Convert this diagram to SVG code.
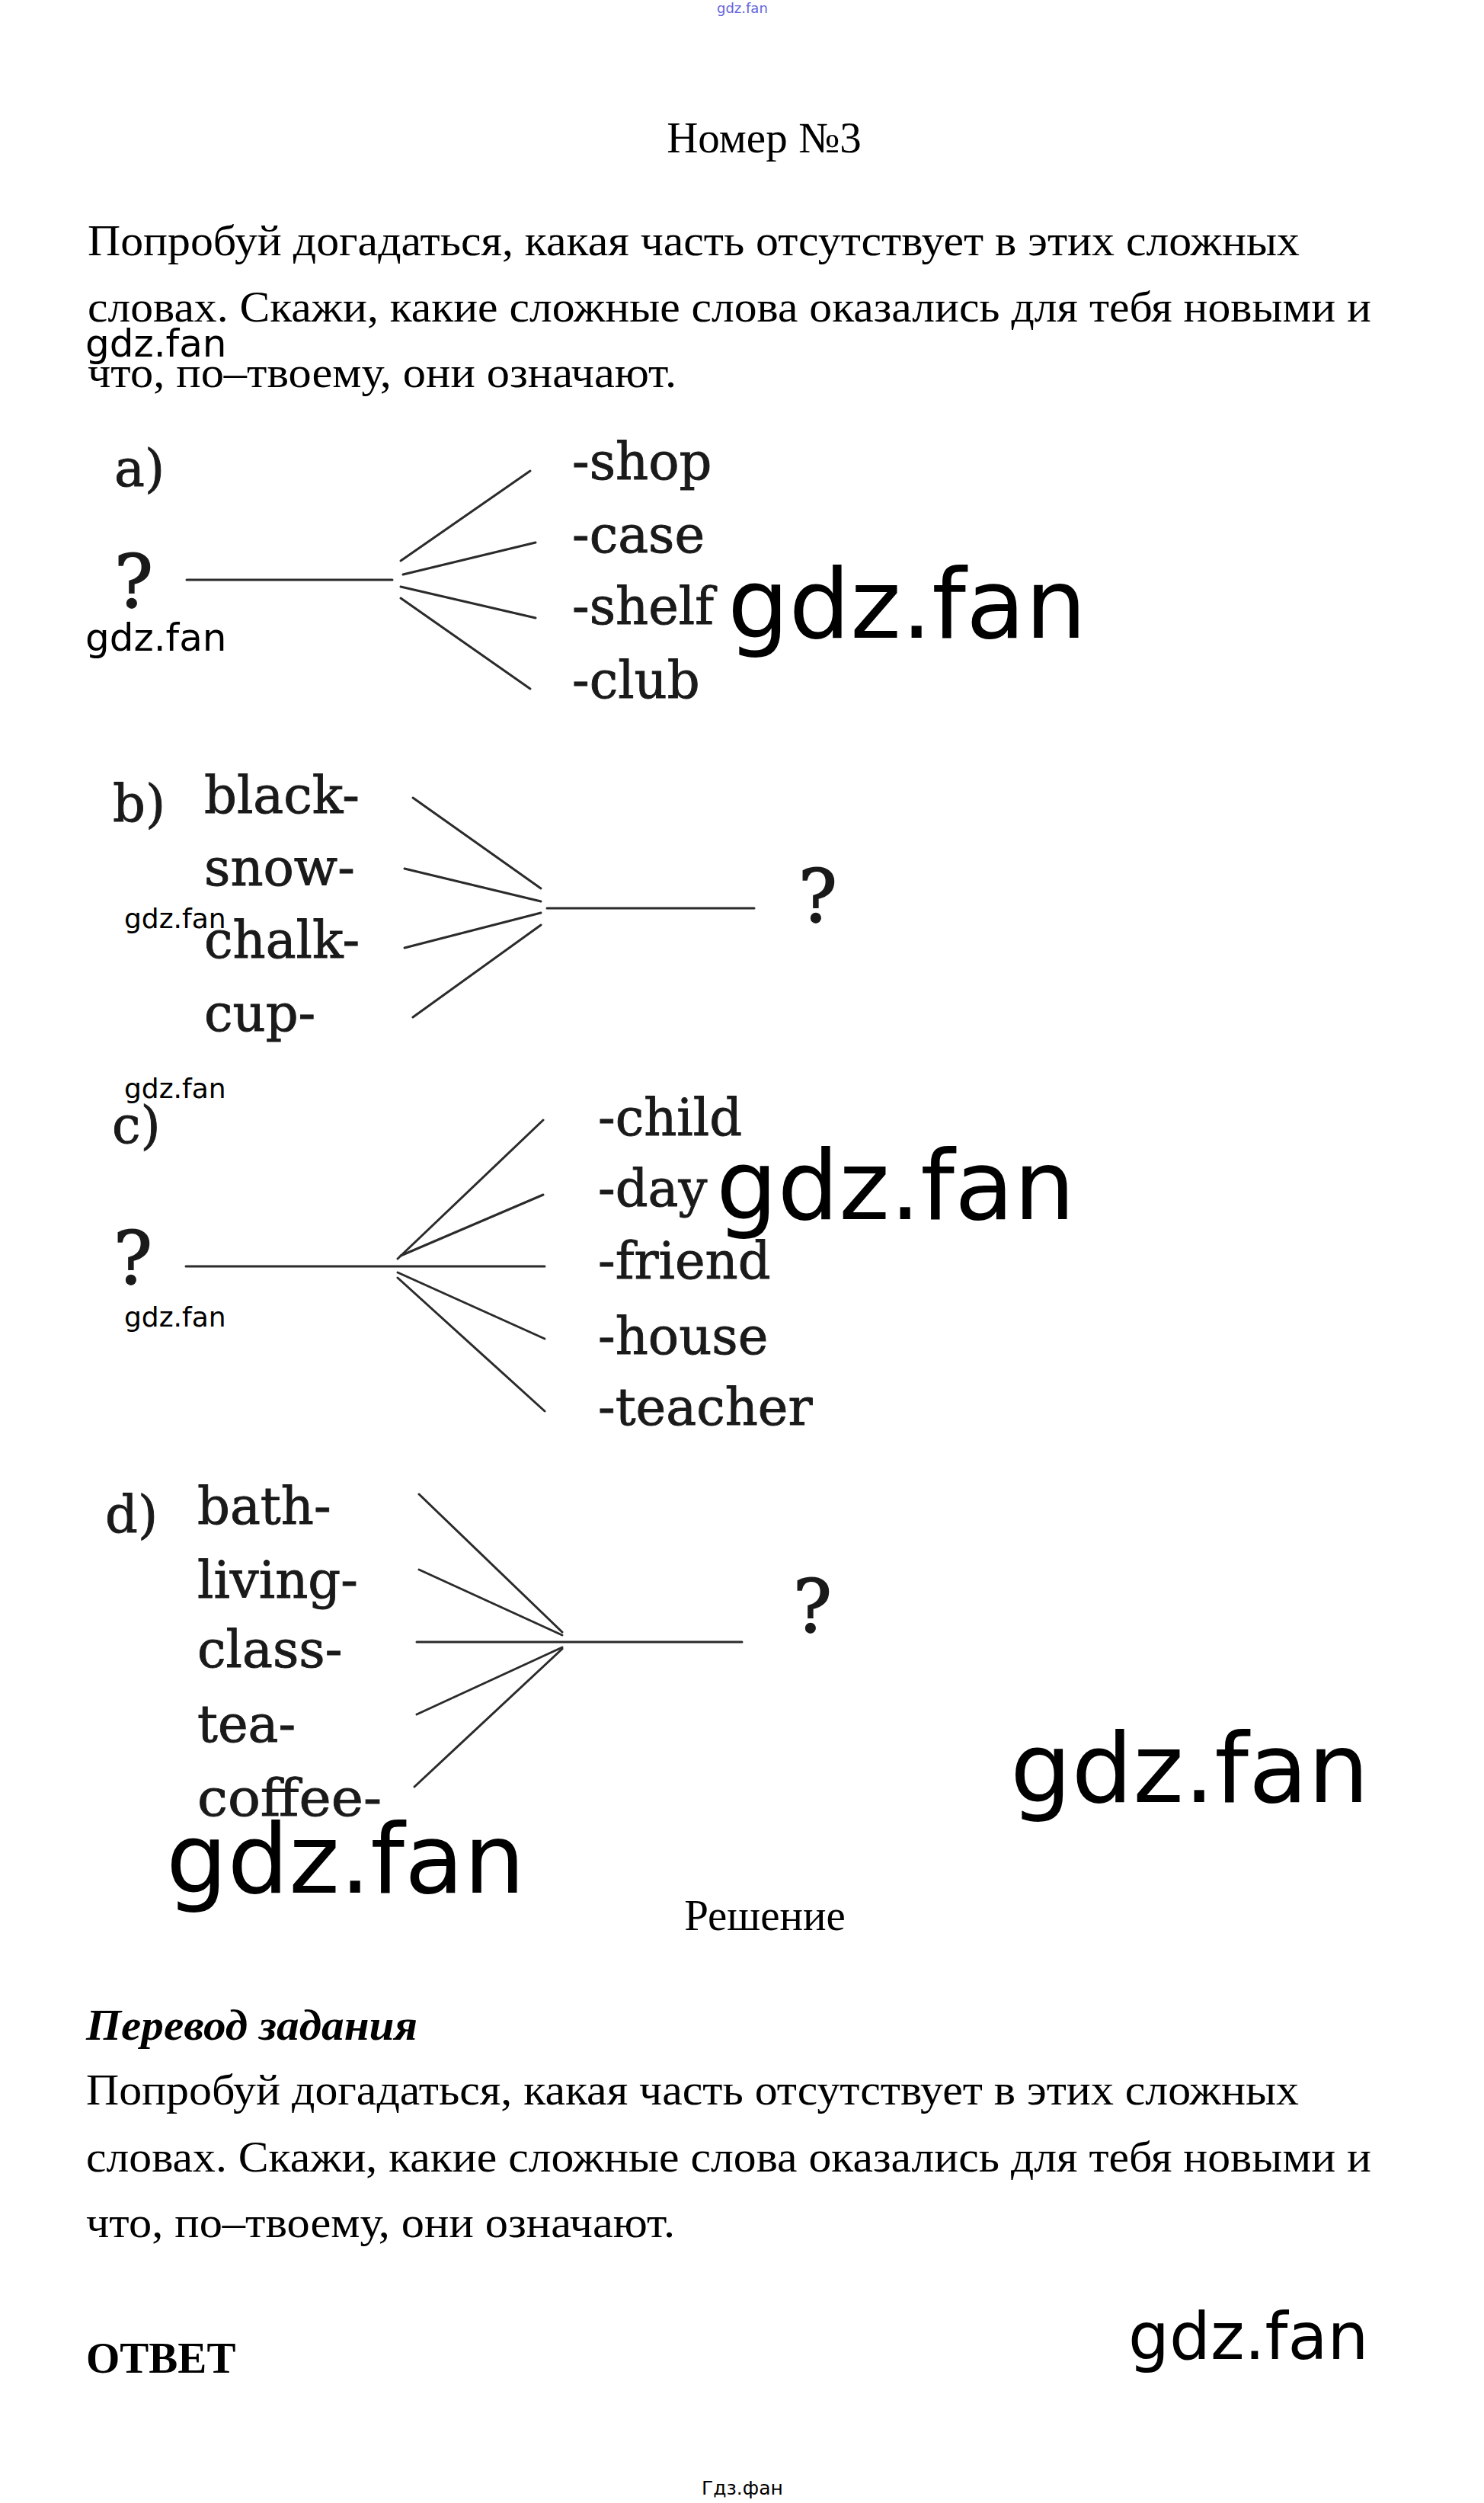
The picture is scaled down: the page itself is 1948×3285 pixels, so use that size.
<svg xmlns="http://www.w3.org/2000/svg" width="1948" height="3285" viewBox="0 0 1948 3285">
<style>
.body{font-family:"Liberation Serif","Times New Roman",serif;font-size:57px;fill:#000}
.w{font-family:"DejaVu Sans","Verdana",sans-serif;fill:#000}
.lab{font-family:"DejaVu Serif","Liberation Serif",serif;font-size:67px;fill:#1a1a1a;stroke:#1a1a1a;stroke-width:0.9}
.q{font-family:"DejaVu Serif","Liberation Serif",serif;font-size:95px;fill:#1a1a1a;stroke:#1a1a1a;stroke-width:1.8}
.ln{stroke:#2b2b2b;stroke-width:3;stroke-linecap:round;fill:none}
</style>
<rect width="1948" height="3285" fill="#fff"/>
<g id="wm-top"><text class="w" x="941" y="17" font-size="18" style="fill:#6464dc">gdz.fan</text></g>
<g id="title"><text class="body" x="1003" y="200" text-anchor="middle">Номер №3</text></g>
<g id="task">
<text class="body" x="115" y="335" textLength="1591" lengthAdjust="spacingAndGlyphs">Попробуй догадаться, какая часть отсутствует в этих сложных</text>
<text class="body" x="115" y="422" textLength="1685" lengthAdjust="spacingAndGlyphs">словах. Скажи, какие сложные слова оказались для тебя новыми и</text>
<text class="body" x="115" y="508" textLength="773" lengthAdjust="spacingAndGlyphs">что, по–твоему, они означают.</text>
</g>
<g id="wm-1"><text class="w" x="112" y="468" font-size="50">gdz.fan</text></g>

<g id="connectors">
<line class="ln" x1="245" y1="761" x2="515" y2="761"/>
<line class="ln" x1="526" y1="736" x2="696" y2="618"/>
<line class="ln" x1="529" y1="754" x2="703" y2="712"/>
<line class="ln" x1="526" y1="770" x2="703" y2="811"/>
<line class="ln" x1="526" y1="785" x2="696" y2="904"/>

<line class="ln" x1="542" y1="1047" x2="710" y2="1166"/>
<line class="ln" x1="531" y1="1140" x2="710" y2="1183"/>
<line class="ln" x1="531" y1="1244" x2="710" y2="1198"/>
<line class="ln" x1="542" y1="1335" x2="710" y2="1214"/>
<line class="ln" x1="718" y1="1192" x2="990" y2="1192"/>

<line class="ln" x1="244" y1="1662" x2="715" y2="1662"/>
<line class="ln" x1="522" y1="1652" x2="713" y2="1470"/>
<line class="ln" x1="526" y1="1648" x2="713" y2="1568"/>
<line class="ln" x1="522" y1="1670" x2="715" y2="1757"/>
<line class="ln" x1="522" y1="1677" x2="715" y2="1852"/>

<line class="ln" x1="550" y1="1961" x2="738" y2="2142"/>
<line class="ln" x1="550" y1="2060" x2="738" y2="2146"/>
<line class="ln" x1="547" y1="2155" x2="974" y2="2155"/>
<line class="ln" x1="547" y1="2250" x2="738" y2="2162"/>
<line class="ln" x1="544" y1="2345" x2="738" y2="2164"/>
</g>

<g id="node-a">
<text class="lab" x="150" y="638">a)</text>
<text class="q" x="150" y="797">?</text>
<text class="lab" x="751" y="629">-shop</text>
<text class="lab" x="751" y="725">-case</text>
<text class="lab" x="751" y="819">-shelf</text>
<text class="lab" x="751" y="916">-club</text>
</g>
<g id="wm-a"><text class="w" x="112" y="854" font-size="50">gdz.fan</text><text class="w" x="955" y="837" font-size="127">gdz.fan</text></g>

<g id="node-b">
<text class="lab" x="148" y="1078">b)</text>
<text class="lab" x="268" y="1067">black-</text>
<text class="lab" x="268" y="1162">snow-</text>
<text class="lab" x="268" y="1257">chalk-</text>
<text class="lab" x="268" y="1353">cup-</text>
<text class="q" x="1048" y="1210">?</text>
</g>
<g id="wm-b"><text class="w" x="163" y="1218" font-size="36">gdz.fan</text></g>

<g id="node-c">
<text class="lab" x="147" y="1500">c)</text>
<text class="q" x="149" y="1685">?</text>
<text class="lab" x="785" y="1490">-child</text>
<text class="lab" x="785" y="1583">-day</text>
<text class="lab" x="785" y="1678">-friend</text>
<text class="lab" x="785" y="1777">-house</text>
<text class="lab" x="785" y="1870">-teacher</text>
</g>
<g id="wm-c"><text class="w" x="163" y="1441" font-size="36">gdz.fan</text><text class="w" x="940" y="1600" font-size="127">gdz.fan</text><text class="w" x="163" y="1741" font-size="36">gdz.fan</text></g>

<g id="node-d">
<text class="lab" x="138" y="2011">d)</text>
<text class="lab" x="259" y="2000">bath-</text>
<text class="lab" x="259" y="2097">living-</text>
<text class="lab" x="259" y="2188">class-</text>
<text class="lab" x="259" y="2286">tea-</text>
<text class="lab" x="259" y="2383" textLength="242" lengthAdjust="spacingAndGlyphs">coffee-</text>
<text class="q" x="1041" y="2142">?</text>
</g>
<g id="wm-d"><text class="w" x="1326" y="2365" font-size="127">gdz.fan</text><text class="w" x="218" y="2484" font-size="127">gdz.fan</text></g>

<g id="solution"><text class="body" x="1004" y="2533" text-anchor="middle">Решение</text></g>
<g id="translation">
<text class="body" x="113" y="2677" font-weight="bold" font-style="italic" textLength="435" lengthAdjust="spacingAndGlyphs">Перевод задания</text>
<text class="body" x="113" y="2762" textLength="1592" lengthAdjust="spacingAndGlyphs">Попробуй догадаться, какая часть отсутствует в этих сложных</text>
<text class="body" x="113" y="2850" textLength="1687" lengthAdjust="spacingAndGlyphs">словах. Скажи, какие сложные слова оказались для тебя новыми и</text>
<text class="body" x="113" y="2936" textLength="773" lengthAdjust="spacingAndGlyphs">что, по–твоему, они означают.</text>
</g>
<g id="answer"><text class="body" x="113" y="3114" font-weight="bold">ОТВЕТ</text></g>
<g id="wm-bottom"><text class="w" x="1481" y="3096" font-size="85">gdz.fan</text><text class="w" x="921" y="3274" font-size="25">Гдз.фан</text></g>
</svg>
